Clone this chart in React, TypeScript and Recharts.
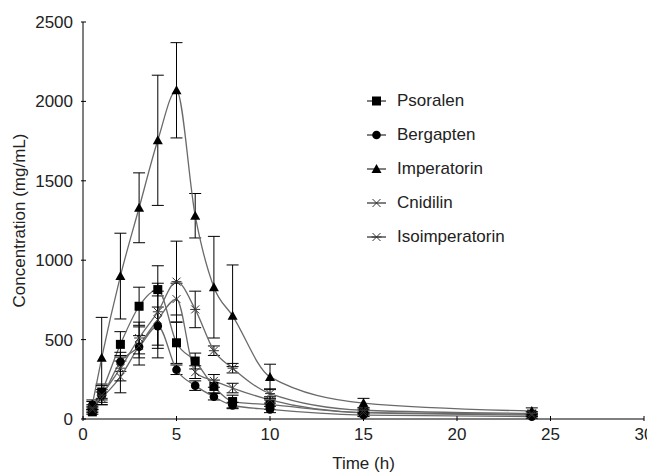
import { LineChart, Line, XAxis, YAxis, ErrorBar, Label } from 'recharts';

const times = [0.5, 1, 2, 3, 4, 5, 6, 7, 8, 10, 15, 24];

const psoralen = [45, 170, 470, 710, 815, 480, 365, 205, 110, 90, 40, 30];
const psoralenErr = [15, 50, 80, 120, 40, 130, 50, 40, 40, 30, 20, 15];
const bergapten = [90, 145, 360, 455, 585, 310, 210, 140, 85, 60, 25, 15];
const bergaptenErr = [20, 40, 60, 70, 120, 30, 30, 20, 20, 20, 10, 10];
const imperatorin = [90, 385, 900, 1330, 1755, 2070, 1280, 830, 650, 265, 100, 50];
const imperatorinErr = [30, 255, 270, 220, 410, 300, 140, 320, 320, 80, 30, 20];
const cnidilin = [60, 130, 265, 460, 625, 755, 295, 240, 195, 120, 40, 25];
const cnidilinErr = [20, 40, 100, 120, 180, 100, 40, 40, 30, 20, 10, 10];
const isoimperatorin = [70, 150, 320, 510, 675, 865, 690, 430, 320, 160, 55, 35];
const isoimperatorinErr = [20, 60, 80, 100, 290, 255, 115, 30, 30, 30, 15, 10];

const xTicks = [0, 5, 10, 15, 20, 25, 30];
const yTicks = [0, 500, 1000, 1500, 2000, 2500];

const series = [
  { key: 'psoralen', name: 'Psoralen', shape: 'square' },
  { key: 'bergapten', name: 'Bergapten', shape: 'circle' },
  { key: 'imperatorin', name: 'Imperatorin', shape: 'triangle' },
  { key: 'cnidilin', name: 'Cnidilin', shape: 'cross' },
  { key: 'isoimperatorin', name: 'Isoimperatorin', shape: 'star' },
];

const data = times.map((t, i) => ({
  time: t,
  psoralen: psoralen[i],
  psoralenErr: psoralenErr[i],
  bergapten: bergapten[i],
  bergaptenErr: bergaptenErr[i],
  imperatorin: imperatorin[i],
  imperatorinErr: imperatorinErr[i],
  cnidilin: cnidilin[i],
  cnidilinErr: cnidilinErr[i],
  isoimperatorin: isoimperatorin[i],
  isoimperatorinErr: isoimperatorinErr[i],
}));

const FONT = '"Liberation Sans", Arial, sans-serif';
const LINE = '#6a6a6a';

function Marker({ shape, cx, cy }: { shape: string; cx: number; cy: number }) {
  if (cx == null || cy == null) return null;
  switch (shape) {
    case 'square':
      return <rect x={cx - 4.5} y={cy - 4.5} width={9} height={9} fill="#000" />;
    case 'circle':
      return <circle cx={cx} cy={cy} r={4.3} fill="#000" />;
    case 'triangle':
      return <polygon points={`${cx},${cy - 5} ${cx - 5},${cy + 4} ${cx + 5},${cy + 4}`} fill="#000" />;
    case 'cross':
      return (
        <path d={`M${cx - 4},${cy - 4}L${cx + 4},${cy + 4}M${cx - 4},${cy + 4}L${cx + 4},${cy - 4}`} stroke="#333" strokeWidth={1} fill="none" />
      );
    default:
      return (
        <path
          d={`M${cx - 4},${cy - 4}L${cx + 4},${cy + 4}M${cx - 4},${cy + 4}L${cx + 4},${cy - 4}M${cx - 5},${cy}L${cx + 5},${cy}`}
          stroke="#333" strokeWidth={1} fill="none"
        />
      );
  }
}

const XTick = (props: any) => {
  const { x, y, payload } = props;
  return (
    <g>
      <line x1={x} x2={x} y1={y} y2={y - 5} stroke="#000" />
      <text x={x} y={y + 19} textAnchor="middle" fontSize={17} fill="#222" fontFamily={FONT}>
        {payload.value}
      </text>
    </g>
  );
};

const YTick = (props: any) => {
  const { x, y, payload } = props;
  return (
    <g>
      <line x1={x} x2={x + 5} y1={y} y2={y} stroke="#000" />
      <text x={x - 8} y={y + 6} textAnchor="end" fontSize={17} fill="#222" fontFamily={FONT}>
        {payload.value}
      </text>
    </g>
  );
};

const YTitle = (props: any) => {
  const { viewBox } = props;
  const cy = viewBox.y + viewBox.height / 2;
  return (
    <text
      x={17}
      y={cy}
      transform={`rotate(-90, 17, ${cy})`}
      textAnchor="middle"
      fontSize={17}
      fill="#222"
      fontFamily={FONT}
    >
      Concentration (mg/mL)
    </text>
  );
};

function ChartLegend() {
  return (
    <div style={{ position: 'absolute', left: 359, top: 76, fontFamily: FONT, fontSize: 17, color: '#222' }}>
      {series.map((s) => (
        <div key={s.key} style={{ display: 'flex', alignItems: 'center', height: 34 }}>
          <svg width={24} height={14} style={{ marginRight: 6 }}>
            <line x1={0} x2={19} y1={7} y2={7} stroke="#000" strokeWidth={1} />
            <Marker shape={s.shape} cx={9.5} cy={7} />
          </svg>
          <span>{s.name}</span>
        </div>
      ))}
    </div>
  );
}

export default function App() {
  return (
    <div style={{ position: 'relative', width: 647, height: 465 }}>
      <LineChart width={647} height={465} data={data} margin={{ top: 14, right: 11, bottom: 24, left: 0 }}>
        <XAxis
          dataKey="time"
          type="number"
          domain={[0, 30]}
          ticks={xTicks}
          tick={<XTick />}
          tickLine={false}
          tickSize={0}
          height={30}
          stroke="#000"
        >
          <Label value="Time (h)" position="bottom" offset={8} style={{ fontFamily: FONT, fontSize: 17, fill: '#222' }} />
        </XAxis>
        <YAxis
          type="number"
          domain={[0, 2500]}
          ticks={yTicks}
          tick={<YTick />}
          tickLine={false}
          tickSize={0}
          width={75}
          stroke="#000"
        >
          <Label content={<YTitle />} />
        </YAxis>
        {series.map((s) => (
          <Line
            key={s.key}
            type="monotone"
            dataKey={s.key}
            name={s.name}
            stroke={LINE}
            strokeWidth={1.3}
            isAnimationActive={false}
            dot={(p: any) => <Marker key={`${s.key}-${p.index}`} shape={s.shape} cx={p.cx} cy={p.cy} />}
            activeDot={false}
          >
            <ErrorBar dataKey={`${s.key}Err`} width={6} stroke="#000" strokeWidth={1} direction="y" />
          </Line>
        ))}
      </LineChart>
      <ChartLegend />
    </div>
  );
}
